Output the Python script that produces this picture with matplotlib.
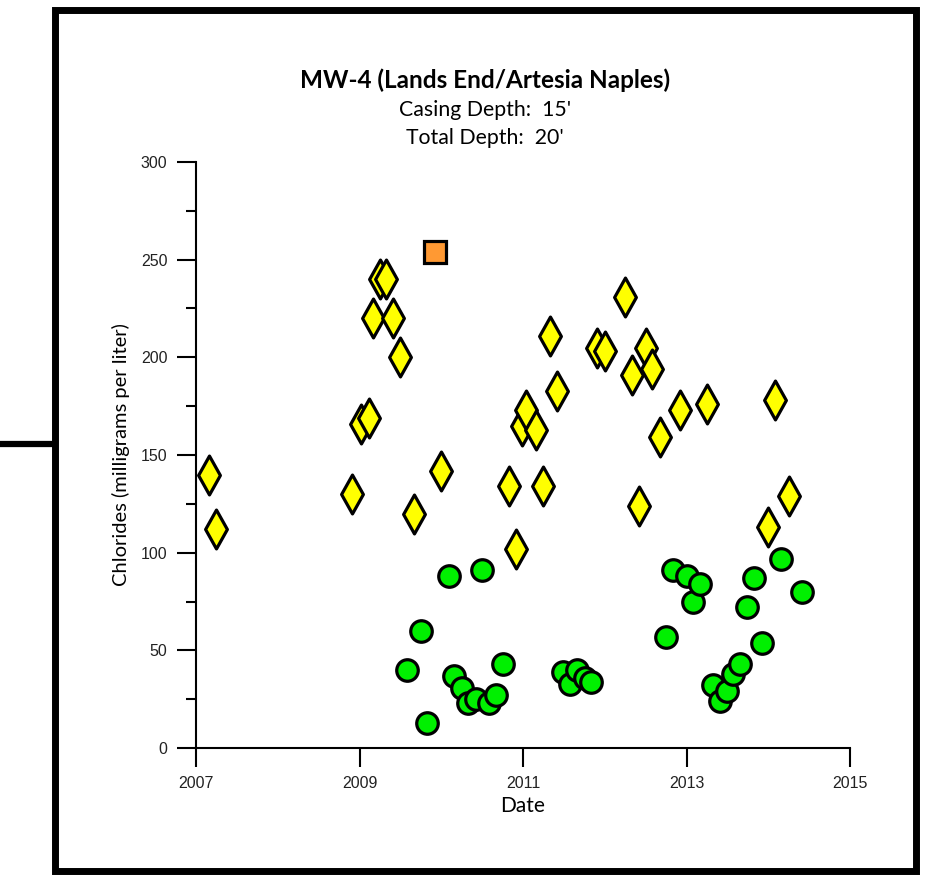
import numpy as np
import matplotlib
matplotlib.use("Agg")
import matplotlib.pyplot as plt
from matplotlib.path import Path
from matplotlib.patches import Rectangle
from matplotlib.lines import Line2D

# yellow diamonds (decimal year, mg/L)
diamond_dates = [2007.16, 2007.24, 2008.91, 2009.02, 2009.12, 2009.16, 2009.25, 2009.33,
                 2009.41, 2009.50, 2009.67, 2010.00, 2010.83, 2010.91, 2010.99, 2011.04,
                 2011.16, 2011.24, 2011.33, 2011.41, 2011.91, 2012.00, 2012.25, 2012.33,
                 2012.42, 2012.50, 2012.58, 2012.67, 2012.92, 2013.25, 2014.00, 2014.08,
                 2014.25]
diamond_vals = [140, 112, 130, 166, 169, 220, 240, 240,
                220, 200, 120, 142, 134, 102, 165, 173,
                163, 134, 211, 183, 205, 203, 231, 191,
                124, 205, 194, 159, 173, 176, 113, 178,
                129]

# green circles
circle_dates = [2009.58, 2009.75, 2009.83, 2010.09, 2010.16, 2010.25, 2010.33, 2010.43,
                2010.50, 2010.58, 2010.67, 2010.75, 2011.49, 2011.57, 2011.66, 2011.76,
                2011.83, 2012.75, 2012.83, 2013.00, 2013.08, 2013.17, 2013.33, 2013.41,
                2013.50, 2013.57, 2013.66, 2013.74, 2013.83, 2013.92, 2014.16, 2014.41]
circle_vals = [40, 60, 13, 88, 37, 30.5, 23, 25,
               91, 23, 27, 43, 39, 33, 40, 36,
               34, 57, 91, 88, 75, 84, 32, 24,
               29, 38, 43, 72, 87, 54, 97, 80]

# orange square
square_dates = [2009.92]
square_vals = [254]

title = "MW-4 (Lands End/Artesia Naples)"
subtitles = ["Casing Depth:  15'", "Total Depth:  20'"]

W, H = 941, 880
fig = plt.figure(figsize=(W / 100, H / 100), dpi=100)
ax = fig.add_axes([196 / W, (H - 748) / H, (850 - 196) / W, (748 - 162) / H])

tall_diamond = Path([(0, 1), (0.56, 0), (0, -1), (-0.56, 0), (0, 1)],
                    [Path.MOVETO, Path.LINETO, Path.LINETO, Path.LINETO, Path.CLOSEPOLY])

ax.plot(diamond_dates, diamond_vals, linestyle="none", marker=tall_diamond, ms=28,
        mfc="#FFFF00", mec="black", mew=2.3, zorder=3)
ax.plot(circle_dates, circle_vals, linestyle="none", marker="o", ms=15.5,
        mfc="#00F000", mec="black", mew=2.3, zorder=3)
ax.plot(square_dates, square_vals, linestyle="none", marker="s", ms=15.5,
        mfc="#FF9933", mec="black", mew=2.3, zorder=3)

ax.set_xlim(2007, 2015)
ax.set_ylim(0, 300)
ax.set_xticks(np.arange(2007, 2016, 2))
ax.set_yticks(np.arange(0, 301, 50))
ax.set_yticks(np.arange(25, 300, 50), minor=True)
for s in ["top", "right"]:
    ax.spines[s].set_visible(False)
for s in ["left", "bottom"]:
    ax.spines[s].set_linewidth(1.5)
ax.tick_params(which="major", length=13.5, width=1.5, direction="out",
               labelsize=11.5, pad=7)
ax.tick_params(which="minor", length=7, width=1.5, direction="out")
for lab in ax.get_xticklabels() + ax.get_yticklabels():
    lab.set_fontfamily("Liberation Sans")
    lab.set_color("#222222")

ax.set_xlabel("Date", fontsize=15, family="Lato", labelpad=3)
ax.set_ylabel("Chlorides (milligrams per liter)", fontsize=14.5, family="Lato", labelpad=8)

fig.text(485 / W, 1 - 80 / H, title, ha="center", va="center", fontsize=17.5,
         fontweight="bold", family="Lato")
fig.text(485 / W, 1 - 110 / H, subtitles[0], ha="center", va="center", fontsize=15.3, family="Lato")
fig.text(485 / W, 1 - 138 / H, subtitles[1], ha="center", va="center", fontsize=15.3, family="Lato")

# heavy frame and the stub line on the left
fig.patches.append(Rectangle((54.5 / W, 1 - 871 / H), (915.5 - 54.5) / W, (871 - 10) / H,
                             transform=fig.transFigure, fill=False, lw=5, ec="black"))
fig.lines.append(Line2D([0, 54 / W], [1 - 444 / H, 1 - 444 / H],
                        transform=fig.transFigure, lw=4.5, color="black"))

fig.savefig("out.png", dpi=100)
